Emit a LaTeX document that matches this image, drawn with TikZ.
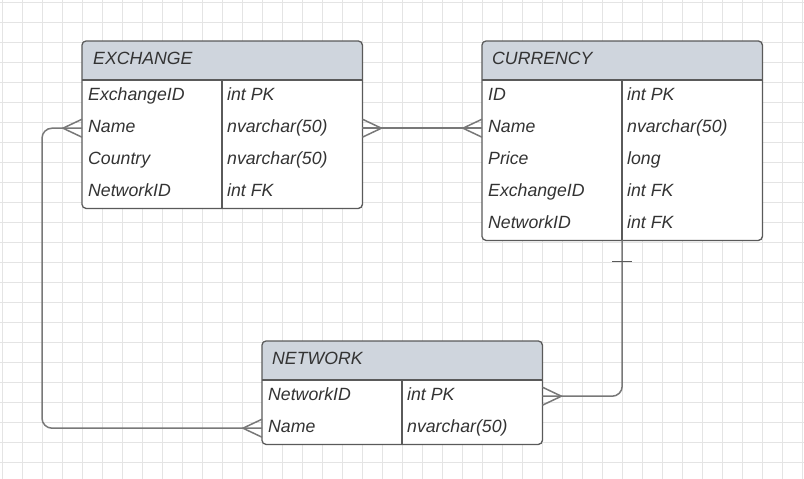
\documentclass[tikz,border=0pt]{standalone}
\usepackage{fontspec}
\setmainfont{Liberation Sans}
\usetikzlibrary{positioning}
\definecolor{gridgray}{RGB}{228,228,228}
\definecolor{headfill}{RGB}{207,213,221}
\definecolor{boxline}{RGB}{90,90,90}
\definecolor{linkgray}{RGB}{120,120,120}
\definecolor{textgray}{RGB}{51,51,51}

\tikzset{
  gridline/.style={gridgray, line width=0.8pt},
  tablebox/.style={rectangle, fill=white, minimum width=280pt, inner sep=0pt, anchor=north west},
  headtext/.style={anchor=west, inner sep=0pt, text=textgray, text height=13pt, text depth=4pt, font=\itshape\fontsize{17.7}{20}\selectfont},
  field/.style={rectangle, anchor=north west, minimum width=280pt, minimum height=32pt, inner xsep=6pt, inner ysep=0pt, text width=268pt, text height=13pt, text depth=4pt, align=left, text=textgray, font=\itshape\fontsize{17.7}{20}\selectfont},
  typetext/.style={anchor=west, inner sep=0pt, text=textgray, text height=13pt, text depth=4pt, font=\itshape\fontsize{17.7}{20}\selectfont},
  boxline/.style={draw=boxline, line width=1.3pt},
  link/.style={draw=linkgray, line width=1.5pt},
  barline/.style={draw=boxline, line width=1pt}
}

\begin{document}
\begin{tikzpicture}[x=1pt, y=-1pt]
\useasboundingbox (0,0) rectangle (804,479);
\foreach \gx in {2,22,...,802} \draw[gridline] (\gx,0) -- (\gx,479);
\foreach \gy in {2,22,...,478} \draw[gridline] (0,\gy) -- (804,\gy);

% tables
\node[tablebox, minimum height=167pt] (exchange) at (82,41) {};
\node[tablebox, minimum height=199pt] (currency) at (482,41) {};
\node[tablebox, minimum height=103pt] (network) at (262,341) {};

\begin{scope}
\clip[rounded corners=4pt] (exchange.north west) rectangle (exchange.south east);
\fill[headfill] (exchange.north west) rectangle ([yshift=-39pt]exchange.north east);
\end{scope}
\begin{scope}
\clip[rounded corners=4pt] (currency.north west) rectangle (currency.south east);
\fill[headfill] (currency.north west) rectangle ([yshift=-39pt]currency.north east);
\end{scope}
\begin{scope}
\clip[rounded corners=4pt] (network.north west) rectangle (network.south east);
\fill[headfill] (network.north west) rectangle ([yshift=-39pt]network.north east);
\end{scope}

\node[headtext] (exchangetitle) at ([xshift=11pt,yshift=-19pt]exchange.north west) {EXCHANGE};
\node[headtext] (currencytitle) at ([xshift=10pt,yshift=-19pt]currency.north west) {CURRENCY};
\node[headtext] (networktitle) at ([xshift=10pt,yshift=-19pt]network.north west) {NETWORK};

% EXCHANGE rows
\node[field] (exid) at (82,80) {ExchangeID};
\node[field] (exname) at (82,112) {Name};
\node[field] (excountry) at (82,144) {Country};
\node[field] (exnet) at (82,176) {NetworkID};
\node[typetext] at ([xshift=145pt]exid.west) {int PK};
\node[typetext] at ([xshift=145pt]exname.west) {nvarchar(50)};
\node[typetext] at ([xshift=145pt]excountry.west) {nvarchar(50)};
\node[typetext] at ([xshift=145pt]exnet.west) {int FK};

% CURRENCY rows
\node[field] (cuid) at (482,80) {ID};
\node[field] (cuname) at (482,112) {Name};
\node[field] (cuprice) at (482,144) {Price};
\node[field] (cuex) at (482,176) {ExchangeID};
\node[field] (cunet) at (482,208) {NetworkID};
\node[typetext] at ([xshift=145pt]cuid.west) {int PK};
\node[typetext] at ([xshift=145pt]cuname.west) {nvarchar(50)};
\node[typetext] at ([xshift=145pt]cuprice.west) {long};
\node[typetext] at ([xshift=145pt]cuex.west) {int FK};
\node[typetext] at ([xshift=145pt]cunet.west) {int FK};

% NETWORK rows
\node[field] (nwid) at (262,380) {NetworkID};
\node[field] (nwname) at (262,412) {Name};
\node[typetext] at ([xshift=145pt]nwid.west) {int PK};
\node[typetext] at ([xshift=145pt]nwname.west) {nvarchar(50)};

% table lines
\draw[boxline] (exid.north west) -- (exid.north east);
\draw[boxline] ([xshift=140pt]exid.north west) -- ([xshift=140pt]exchange.south west);
\draw[boxline, rounded corners=4pt] (exchange.north west) rectangle (exchange.south east);
\draw[boxline] (cuid.north west) -- (cuid.north east);
\draw[boxline] ([xshift=140pt]cuid.north west) -- ([xshift=140pt]currency.south west);
\draw[boxline, rounded corners=4pt] (currency.north west) rectangle (currency.south east);
\draw[boxline] (nwid.north west) -- (nwid.north east);
\draw[boxline] ([xshift=140pt]nwid.north west) -- ([xshift=140pt]network.south west);
\draw[boxline, rounded corners=4pt] (network.north west) rectangle (network.south east);

% relations
\draw[link] (exname.east) -- (cuname.west);
\draw[link] (exname.east) ++(0,-9) -- ++(19,9) -- ++(-19,9);
\draw[link] (cuname.west) ++(0,-9) -- ++(-19,9) -- ++(19,9);

\draw[link, rounded corners=10pt] (currency.south) |- (nwid.east);
\draw[link] (nwid.east) ++(0,-9) -- ++(19,9) -- ++(-19,9);
\draw[barline] ([xshift=-10pt,yshift=-21pt]currency.south) -- ++(20,0);

\draw[link, rounded corners=10pt] (exname.west) -- ++(-40,0) |- (nwname.west);
\draw[link] (exname.west) ++(0,-9) -- ++(-19,9) -- ++(19,9);
\draw[link] (nwname.west) ++(0,-9) -- ++(-19,9) -- ++(19,9);
\end{tikzpicture}
\end{document}
